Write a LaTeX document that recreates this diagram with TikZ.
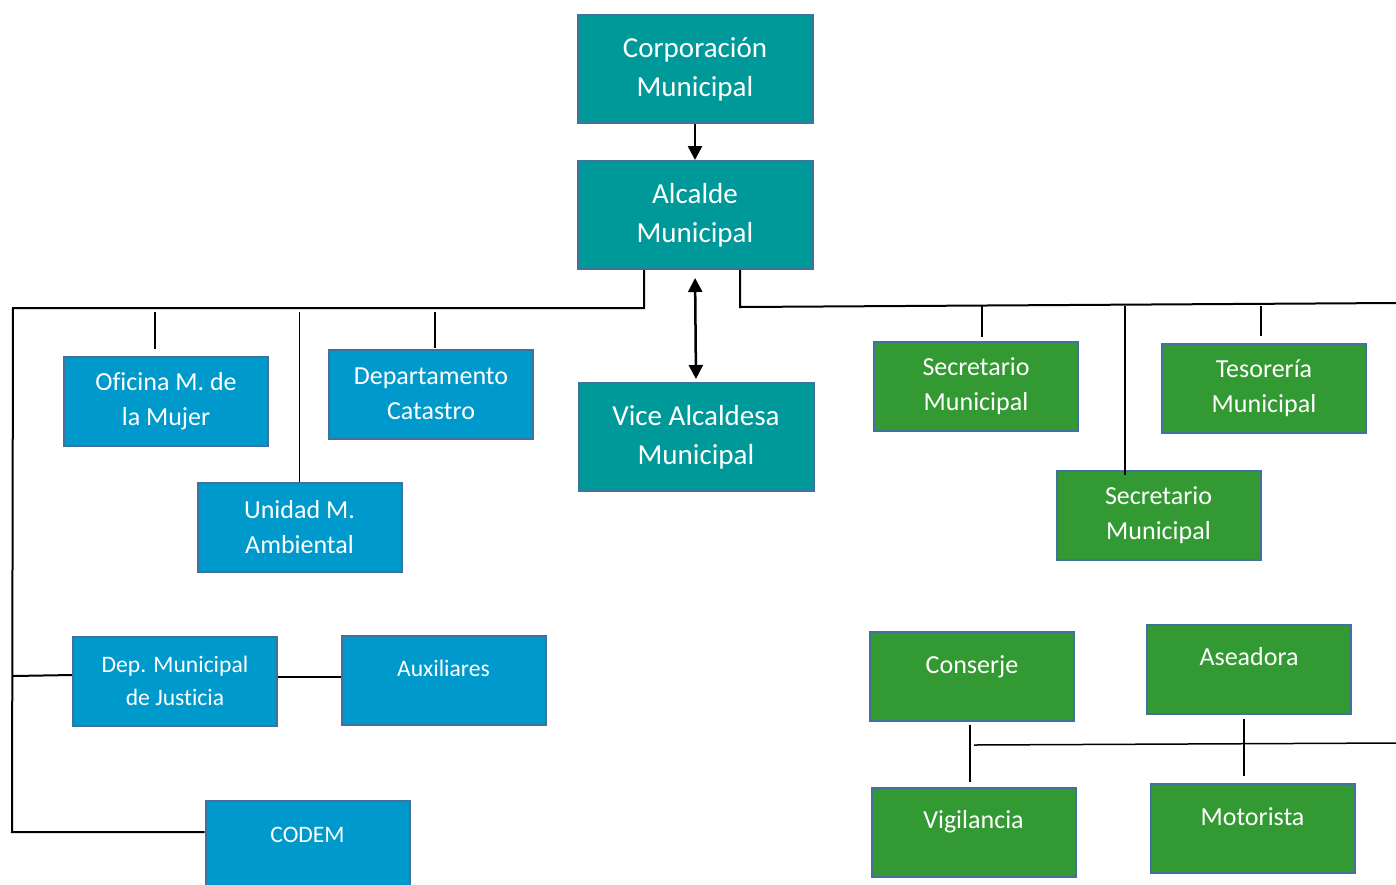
\documentclass[tikz,border=0pt]{standalone}
\usepackage{fontspec}
\setmainfont{Carlito}[Ligatures=NoCommon]
\usetikzlibrary{arrows.meta,calc}
\definecolor{colorteal}{HTML}{009999}
\definecolor{colorblue}{HTML}{0099CC}
\definecolor{colorgreen}{HTML}{339933}
\definecolor{colorborder}{HTML}{41719C}
\tikzset{
    unit box/.style={draw=colorborder, line width=2pt, text=white, align=center, inner sep=1pt},
    teal box/.style={unit box, fill=colorteal, minimum width=235pt, minimum height=108pt,
        font=\fontsize{29}{39}\selectfont},
    blue box/.style={unit box, fill=colorblue, minimum width=204pt, minimum height=89pt,
        font=\fontsize{26}{35}\selectfont},
    green box/.style={unit box, fill=colorgreen, minimum width=204pt, minimum height=89pt,
        font=\fontsize{26}{35}\selectfont},
    small text/.style={font=\fontsize{23.6}{33}\selectfont},
    upper text/.style={text height=18pt, text depth=25pt},
    bus line/.style={line width=2pt},
    tick line/.style={line width=1.5pt},
    head/.tip={Triangle[length=14pt, width=14pt]}
}

\begin{document}
\begin{tikzpicture}[x=1pt, y=-1pt]
        \useasboundingbox (0,0) rectangle (1396,884);

        \node [teal box] (corp) at (695,69) {Corporación\\Municipal};
        \node [teal box] (alc) at (695,215) {Alcalde\\Municipal};
        \node [teal box] (vice) at (696,437) {Vice Alcaldesa\\Municipal};

        \node [blue box] (ofi) at (166,401) {Oficina M. de\\la Mujer};
        \node [blue box] (cat) at (431,394) {Departamento\\Catastro};
        \node [blue box] (amb) at (299.5,527) {Unidad M.\\Ambiental};
        \node [blue box, small text] (jus) at (175,681) {Dep. Municipal\\de Justicia};
        \node [blue box, small text, upper text] (aux) at (443.5,680) {Auxiliares};
        \node [blue box, small text, upper text] (codem) at (307.5,845.5) {CODEM};

        \node [green box] (sec1) at (976,386.5) {Secretario\\Municipal};
        \node [green box] (tes) at (1264,388.5) {Tesorería\\Municipal};
        \node [green box] (sec2) at (1158.5,515) {Secretario\\Municipal};
        \node [green box, upper text] (cons) at (972,676.5) {Conserje};
        \node [green box, upper text] (asea) at (1249,669) {Aseadora};
        \node [green box, upper text] (vig) at (973.5,832) {Vigilancia};
        \node [green box, upper text] (moto) at (1252.5,828.5) {Motorista};

        \draw [line width=2.5pt, -head] (corp.south) -- (alc.north);
        \draw [line width=2.5pt, head-head, shorten <=8pt, shorten >=3pt] (alc.south) -- (vice.north);

        \coordinate (lbus) at (13,308);
        \coordinate (lend) at (12,832);
        \coordinate (rbus) at (740,307);
        \coordinate (rend) at (1396,303);
        \coordinate (sbus) at (974,745);
        \coordinate (send) at (1396,743);

        \draw [bus line] ($(alc.south)+(-51,0)$) |- (lbus) -- (lend) -- (lend -| codem.west);
        \draw [bus line] ($(alc.south)+(45,0)$) -- (rbus) -- (rend);
        \draw [bus line] ($(lbus |- jus.west)+(0,-5)$) -- ($(jus.west)+(0,-6)$);
        \draw [bus line] ($(jus.east)+(0,-4)$) -- ($(aux.west)+(0,-3)$);
        \draw [tick line] (sbus) -- (send);

        \foreach \n/\dx/\gap in {ofi/-11/-7, cat/4/-1, amb/0/0} {
            \draw [tick line] ($(lbus -| \n.north)+(\dx,4)$) -- ($(\n.north)+(\dx,\gap)$);
        }

        \foreach \n/\dx/\gap in {sec1/6/-4, tes/-3/-7, sec2/-33.5/5} {
            \draw [tick line] ($(rbus -| \n.north)+(\dx,-1)$) -- ($(\n.north)+(\dx,\gap)$);
        }

        \draw [tick line] ($(cons.south)+(-2,3)$) -- ($(vig.north)+(-3.5,-5)$);
        \draw [tick line] ($(asea.south)+(-5,4)$) -- ($(moto.north)+(-8.5,-7)$);
    \end{tikzpicture}
\end{document}
